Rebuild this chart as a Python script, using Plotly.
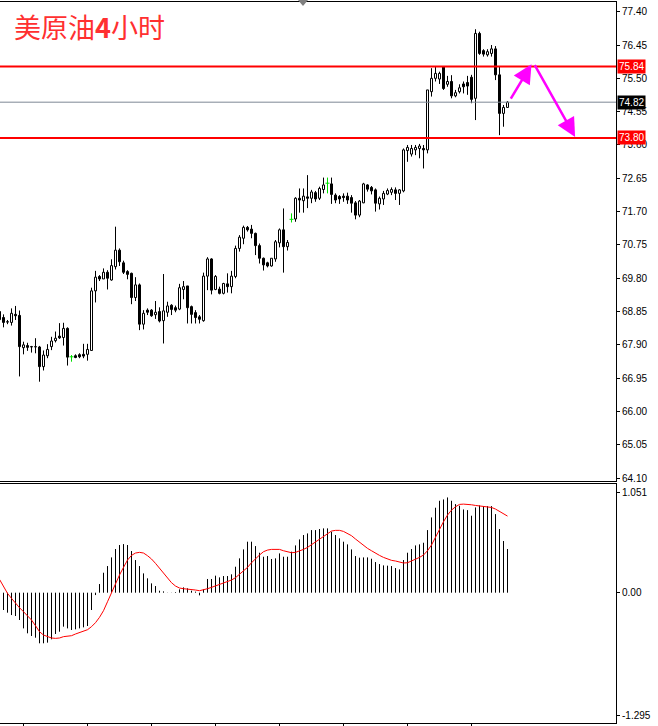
import plotly.graph_objects as go

# ---------------- data ----------------
candle_idx = list(range(-1, 127))
opens = [68.85, 68.68, 68.56, 68.54, 68.77, 68.74, 67.82, 67.88, 67.85, 67.84,
         67.84, 67.28, 67.59, 67.85, 68.02, 68.15, 68.11, 68.37, 67.56, 67.59,
         67.62, 67.63, 67.63, 67.74, 69.44, 69.85, 69.78, 69.97, 69.75, 70.13,
         70.60, 70.24, 69.99, 69.94, 69.25, 69.61, 68.49, 68.89, 68.89, 68.76,
         68.85, 68.59, 68.83, 69.03, 68.96, 68.92, 69.48, 69.58, 68.99, 68.82,
         68.70, 68.59, 69.86, 70.35, 69.48, 69.49, 69.37, 69.64, 69.56, 69.85,
         70.65, 70.94, 71.25, 71.20, 71.08, 70.73, 70.37, 70.24, 70.15, 70.35,
         70.81, 71.18, 70.70, 71.48, 71.49, 72.08, 72.01, 72.12, 72.08, 72.24,
         72.08, 72.33, 72.51, 72.49, 72.17, 72.13, 72.14, 72.14, 72.10, 71.95,
         71.60, 71.95, 72.46, 72.39, 72.32, 71.92, 72.06, 72.20, 72.25, 72.32,
         72.22, 72.29, 73.44, 73.34, 73.46, 73.50, 73.50, 73.46, 75.12, 75.50,
         75.48, 75.83, 75.33, 75.41, 75.00, 75.12, 75.34, 75.38, 75.53, 74.93,
         76.78, 76.29, 76.17, 76.21, 76.34, 75.60, 74.50, 74.67]
highs = [68.92, 68.77, 68.61, 68.94, 69.01, 68.88, 67.99, 67.96, 67.87, 68.09,
         67.87, 67.74, 67.92, 68.13, 68.28, 68.52, 68.53, 68.40, 67.61, 67.63,
         67.66, 67.93, 67.93, 69.53, 70.01, 69.89, 70.08, 70.03, 70.34, 71.27,
         70.65, 70.30, 70.03, 69.96, 69.83, 69.65, 68.89, 68.94, 68.92, 69.15,
         68.97, 69.92, 69.13, 69.06, 69.02, 69.64, 69.72, 69.58, 69.02, 68.89,
         68.75, 69.96, 70.40, 70.37, 69.89, 69.56, 69.67, 69.94, 70.01, 70.73,
         71.03, 71.30, 71.29, 71.32, 71.10, 70.79, 70.39, 70.27, 70.37, 70.89,
         71.22, 71.79, 70.89, 71.65, 72.11, 72.36, 72.36, 72.74, 72.32, 72.29,
         72.41, 72.67, 72.67, 72.67, 72.22, 72.17, 72.22, 72.24, 72.17, 72.00,
         72.03, 72.52, 72.48, 72.43, 72.36, 72.13, 72.29, 72.36, 72.39, 72.39,
         72.34, 73.50, 73.60, 73.60, 73.60, 73.63, 73.60, 75.17, 75.79, 75.83,
         75.69, 75.85, 75.57, 75.59, 75.17, 75.33, 75.41, 75.57, 75.60, 76.90,
         76.83, 76.33, 76.33, 76.45, 76.42, 75.83, 74.74, 74.85]
lows = [68.55, 68.40, 68.49, 68.45, 68.61, 67.00, 67.63, 67.73, 67.68, 67.66,
        66.85, 67.17, 67.52, 67.75, 67.97, 68.07, 67.88, 67.31, 67.42, 67.52,
        67.52, 67.52, 67.45, 67.74, 69.11, 69.72, 69.78, 69.48, 69.73, 70.05,
        70.15, 69.92, 69.77, 69.06, 69.15, 68.32, 68.34, 68.75, 68.70, 68.64,
        68.54, 67.94, 68.70, 68.75, 68.83, 68.89, 69.20, 68.51, 68.51, 68.51,
        68.51, 68.56, 69.46, 69.34, 69.46, 69.34, 69.34, 69.39, 69.37, 69.80,
        70.56, 70.77, 71.13, 70.94, 70.46, 70.22, 70.02, 70.11, 70.13, 70.27,
        70.68, 69.96, 70.59, 71.39, 71.41, 71.67, 71.67, 71.80, 71.94, 71.98,
        72.03, 72.22, 72.22, 71.92, 71.94, 71.92, 71.98, 71.92, 71.67, 71.48,
        71.54, 71.94, 72.27, 72.19, 71.70, 71.76, 71.89, 72.17, 72.17, 72.03,
        71.89, 72.25, 73.12, 73.27, 73.31, 73.22, 72.93, 73.36, 74.98, 75.41,
        75.34, 75.17, 75.26, 74.93, 74.96, 75.07, 75.07, 75.03, 74.79, 74.31,
        76.17, 76.12, 76.12, 76.12, 75.45, 73.88, 74.12, 74.67]
closes = [68.62, 68.54, 68.55, 68.80, 68.73, 67.85, 67.90, 67.83, 67.84, 67.85,
          67.28, 67.61, 67.77, 68.01, 68.09, 68.10, 68.37, 67.55, 67.56, 67.54,
          67.56, 67.58, 67.77, 69.44, 69.83, 69.78, 69.97, 69.80, 70.16, 70.60,
          70.27, 69.97, 69.91, 69.25, 69.61, 68.49, 68.80, 68.83, 68.73, 68.83,
          68.58, 68.87, 69.01, 68.91, 68.89, 69.53, 69.56, 68.96, 68.77, 68.68,
          68.63, 69.86, 70.35, 69.46, 69.85, 69.37, 69.65, 69.56, 69.86, 70.65,
          70.97, 71.25, 71.18, 71.08, 70.73, 70.37, 70.18, 70.15, 70.37, 70.84,
          71.18, 70.70, 70.82, 71.48, 72.08, 72.03, 72.14, 72.08, 72.26, 72.06,
          72.36, 72.46, 72.51, 72.19, 72.03, 72.06, 72.10, 72.03, 71.94, 71.60,
          72.00, 72.49, 72.34, 72.29, 71.94, 72.08, 72.22, 72.30, 72.33, 72.22,
          72.32, 73.46, 73.53, 73.50, 73.53, 73.57, 73.46, 75.17, 75.50, 75.64,
          75.64, 75.21, 75.41, 75.00, 75.09, 75.23, 75.26, 75.28, 74.90, 76.78,
          76.21, 76.19, 76.26, 76.34, 75.60, 74.50, 74.67, 74.82]

macd_idx = list(range(0, 127))
macd_hist = [-0.182, -0.210, -0.235, -0.245, -0.287, -0.375, -0.427, -0.455, -0.473, -0.532,
             -0.532, -0.525, -0.490, -0.434, -0.410, -0.357, -0.375, -0.392, -0.385, -0.375,
             -0.364, -0.350, -0.182, -0.025, 0.091, 0.210, 0.280, 0.371, 0.459, 0.501,
             0.511, 0.501, 0.438, 0.343, 0.280, 0.203, 0.151, 0.098, 0.070, 0.021,
             0.014, 0.002, 0.002, 0.007, 0.035, 0.056, 0.046, 0.021, 0.011, -0.028,
             0.035, 0.144, 0.144, 0.179, 0.161, 0.175, 0.175, 0.193, 0.273, 0.361,
             0.455, 0.536, 0.536, 0.490, 0.420, 0.378, 0.385, 0.354, 0.361, 0.413,
             0.378, 0.378, 0.431, 0.497, 0.560, 0.606, 0.623, 0.658, 0.658, 0.669,
             0.676, 0.676, 0.641, 0.606, 0.571, 0.536, 0.508, 0.455, 0.385, 0.368,
             0.371, 0.371, 0.357, 0.322, 0.301, 0.287, 0.284, 0.280, 0.259, 0.245,
             0.343, 0.420, 0.459, 0.497, 0.508, 0.525, 0.658, 0.791, 0.893, 0.966,
             0.980, 1.001, 0.966, 0.931, 0.914, 0.875, 0.868, 0.809, 0.896, 0.917,
             0.910, 0.910, 0.910, 0.826, 0.669, 0.543, 0.459]
signal_idx = list(range(-1, 127))
macd_signal = [0.140, 0.070, -0.007, -0.060, -0.112, -0.158, -0.200, -0.245, -0.287, -0.347,
               -0.410, -0.445, -0.462, -0.476, -0.480, -0.476, -0.462, -0.459, -0.452, -0.434,
               -0.420, -0.406, -0.389, -0.357, -0.315, -0.259, -0.189, -0.095, 0.000, 0.098,
               0.186, 0.266, 0.343, 0.392, 0.417, 0.424, 0.417, 0.389, 0.354, 0.308,
               0.256, 0.203, 0.158, 0.105, 0.070, 0.049, 0.042, 0.039, 0.035, 0.028,
               0.021, 0.028, 0.042, 0.056, 0.070, 0.088, 0.102, 0.116, 0.133, 0.158,
               0.193, 0.228, 0.266, 0.315, 0.361, 0.396, 0.431, 0.448, 0.455, 0.455,
               0.455, 0.441, 0.431, 0.420, 0.424, 0.438, 0.455, 0.476, 0.504, 0.532,
               0.564, 0.595, 0.623, 0.648, 0.655, 0.655, 0.644, 0.623, 0.599, 0.564,
               0.529, 0.494, 0.466, 0.441, 0.413, 0.392, 0.371, 0.354, 0.340, 0.333,
               0.319, 0.312, 0.315, 0.333, 0.354, 0.371, 0.396, 0.441, 0.501, 0.588,
               0.665, 0.746, 0.816, 0.868, 0.903, 0.928, 0.931, 0.931, 0.924, 0.917,
               0.910, 0.903, 0.900, 0.896, 0.879, 0.854, 0.833, 0.805]

price_ticks = [77.40, 76.45, 75.50, 74.55, 73.60, 72.65, 71.70, 70.75, 69.80,
               68.85, 67.90, 66.95, 66.00, 65.05, 64.10]
macd_ticks = [1.051, 0.0, -1.295]
macd_tick_text = ["1.051", "0.00", "-1.295"]
time_ticks = [5, 21, 37, 53, 69, 85, 101, 117]

resistance = 75.84
support = 73.80
last_price = 74.82
# forecast arrows: (tail index, tail price, head index, head price)
arrows = [(126.6, 74.88, 132.0, 75.90), (132.6, 75.92, 142.9, 73.83)]
title = "美原油<b>4</b>小时"

# ---------------- build ----------------
W, H = 658, 726
TOP, BOT = 2, 3
plot_h = H - TOP - BOT
main_dom = [(H - BOT - 481) / plot_h, 1.0]
macd_dom = [0.0, (H - BOT - 484) / plot_h]
x_range = [-0.875, -0.875 + 616 / 4]
y_range = [64.0184, 77.6766]
m_range = [-1.3695, 1.1424]

fig = go.Figure()

# wicks
wx, wy, gx, gy = [], [], [], []
for i, o, h, l, c in zip(candle_idx, opens, highs, lows, closes):
    if o == c:
        gx += [i, i, None, i - 0.5, i + 0.5, None]
        gy += [l, h, None, o, o, None]
    else:
        lo_b, hi_b = min(o, c), max(o, c)
        if l < lo_b:
            wx += [i, i, None]
            wy += [l, lo_b, None]
        if h > hi_b:
            wx += [i, i, None]
            wy += [hi_b, h, None]

fig.add_trace(go.Scatter(x=wx, y=wy, mode="lines", line=dict(color="black", width=1),
                         xaxis="x", yaxis="y", hoverinfo="skip"))
fig.add_trace(go.Scatter(x=gx, y=gy, mode="lines", line=dict(color="#00e000", width=1),
                         xaxis="x", yaxis="y", hoverinfo="skip"))

ux, ub, uh, dx, db, dh = [], [], [], [], [], []
for i, o, c in zip(candle_idx, opens, closes):
    if c > o:
        ux.append(i); ub.append(o); uh.append(c - o)
    elif c < o:
        dx.append(i); db.append(c); dh.append(o - c)
fig.add_trace(go.Bar(x=ux, y=uh, base=ub, width=0.5, marker=dict(color="white", line=dict(color="black", width=1)),
                     xaxis="x", yaxis="y", hoverinfo="skip"))
fig.add_trace(go.Bar(x=dx, y=dh, base=db, width=0.5, marker=dict(color="black", line=dict(color="black", width=1)),
                     xaxis="x", yaxis="y", hoverinfo="skip"))

# MACD histogram
hx, hy = [], []
for i, v in zip(macd_idx, macd_hist):
    hx += [i, i, None]
    hy += [0, v, None]
fig.add_trace(go.Scatter(x=hx, y=hy, mode="lines", line=dict(color="black", width=1),
                         xaxis="x2", yaxis="y2", hoverinfo="skip"))
fig.add_trace(go.Scatter(x=signal_idx, y=macd_signal, mode="lines", line=dict(color="red", width=1),
                         xaxis="x2", yaxis="y2", hoverinfo="skip"))

tick_font = dict(family="Liberation Sans, Arial, sans-serif", size=10, color="black")

fig.update_layout(
    width=W, height=H,
    margin=dict(l=0, r=W - 616, t=TOP, b=BOT),
    paper_bgcolor="white", plot_bgcolor="white",
    showlegend=False, barmode="overlay", hovermode=False,
    xaxis=dict(domain=[0, 1], anchor="y", range=x_range, showgrid=False, zeroline=False,
               showticklabels=False, ticks="", showline=True, mirror=True, linecolor="black", linewidth=1),
    yaxis=dict(domain=main_dom, anchor="x", range=y_range, side="right", showgrid=False, zeroline=False,
               tickmode="array", tickvals=price_ticks, ticktext=[f"{v:.2f}" for v in price_ticks],
               ticks="outside", ticklen=3, tickcolor="black", tickfont=tick_font,
               showline=True, linecolor="black", linewidth=1),
    xaxis2=dict(domain=[0, 1], anchor="y2", range=x_range, showgrid=False, zeroline=False,
                showticklabels=False, tickmode="array", tickvals=time_ticks, ticks="outside",
                ticklen=4, tickcolor="black", showline=True, mirror=True, linecolor="black", linewidth=1),
    yaxis2=dict(domain=macd_dom, anchor="x2", range=m_range, side="right", showgrid=False, zeroline=False,
                tickmode="array", tickvals=macd_ticks, ticktext=macd_tick_text,
                ticks="outside", ticklen=3, tickcolor="black", tickfont=tick_font,
                showline=True, linecolor="black", linewidth=1),
)

# horizontal levels
for lvl, col, wdt in [(resistance, "#ff0000", 2), (support, "#ff0000", 2), (last_price, "#7d8894", 1)]:
    fig.add_shape(type="line", xref="x domain", yref="y", x0=0, x1=1, y0=lvl, y1=lvl,
                  line=dict(color=col, width=wdt), layer="above")

# price tags on axis
for lvl, bg in [(resistance, "#ff0000"), (last_price, "#000000"), (support, "#ff0000")]:
    fig.add_annotation(xref="paper", yref="y", x=1, y=lvl, xanchor="left", yanchor="middle",
                       xshift=1, text=f"{lvl:.2f}", showarrow=False, bgcolor=bg,
                       font=dict(family="Liberation Sans, Arial, sans-serif", size=10, color="white"),
                       borderpad=1)

# magenta forecast arrows
for tx, ty, hx_, hy_ in arrows:
    fig.add_annotation(x=hx_, y=hy_, ax=tx, ay=ty, xref="x", yref="y", axref="x", ayref="y",
                       text="", showarrow=True, arrowhead=2, arrowsize=1.5, arrowwidth=2.5,
                       arrowcolor="#ff00ff")

# title
fig.add_annotation(xref="paper", yref="paper", x=12 / 616, y=(H - BOT - 27) / plot_h,
                   xanchor="left", yanchor="middle", text=title, showarrow=False,
                   font=dict(family="Noto Sans CJK SC", size=27, color="#ff3030"))

# chart shift marker
x0p, x1p = 298 / 616, 308 / 616
fig.add_shape(type="path", xref="paper", yref="paper",
              path=f"M {x0p},{(H - BOT - 0) / plot_h} L {x1p},{(H - BOT - 0) / plot_h} L {(x0p + x1p) / 2},{(H - BOT - 6) / plot_h} Z",
              fillcolor="#808080", line=dict(width=0))

fig.write_html("out.html")
